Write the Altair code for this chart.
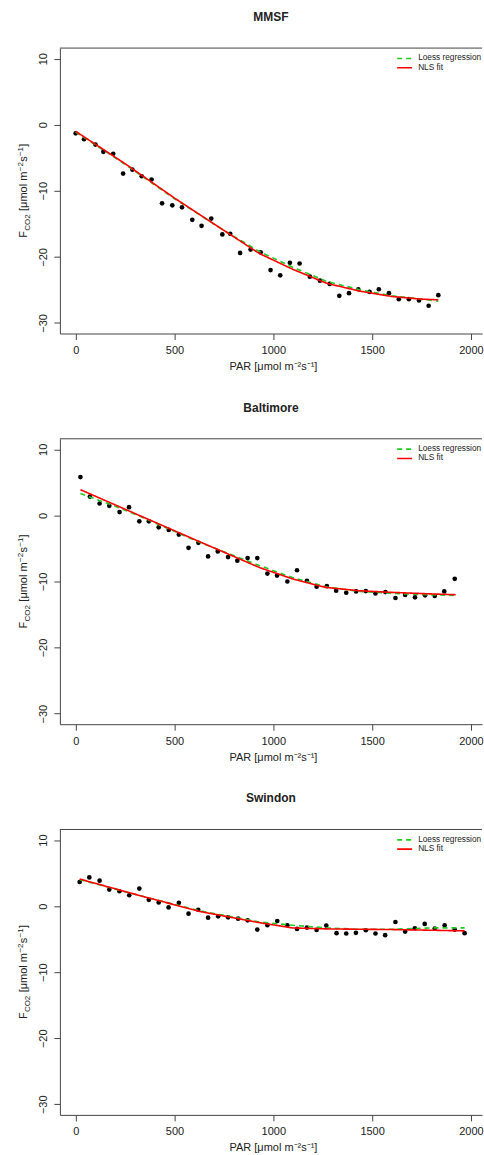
import altair as alt
import pandas as pd

FONT = "Liberation Sans"
GREEN = "#1FCB1F"
RED = "#FF0000"
INK = "#222222"
FRAME = "#444444"

# ---------------- data ----------------
sites = ["MMSF", "Baltimore", "Swindon"]
series_names = ["Loess regression", "NLS fit"]

mmsf_par = [0, 42, 100, 140, 190, 240, 287, 334, 384, 437, 489, 538, 590, 637, 686, 742, 782, 832, 885,
            936, 986, 1035, 1084, 1133, 1185, 1236, 1285, 1334, 1383, 1430, 1487, 1534, 1585, 1635, 1686,
            1737, 1786, 1835]
mmsf_f = [-1.3, -2.2, -3.0, -4.1, -4.4, -7.4, -6.8, -7.8, -8.3, -11.9, -12.2, -12.5, -14.4, -15.3, -14.2,
          -16.6, -16.5, -19.4, -18.9, -19.3, -22.0, -22.8, -20.9, -21.0, -23.0, -23.6, -24.1, -25.9, -25.5,
          -24.9, -25.3, -24.9, -25.5, -26.4, -26.4, -26.6, -27.4, -25.8]
mmsf_nls_par = [0, 250, 500, 750, 930, 1100, 1270, 1440, 1600, 1750, 1835]
mmsf_nls_f = [-1.0, -5.9, -11.1, -16.0, -19.5, -21.9, -24.0, -25.2, -26.0, -26.4, -26.5]
mmsf_lo_par = [0, 250, 500, 750, 930, 1100, 1270, 1440, 1600, 1750, 1835]
mmsf_lo_f = [-1.1, -6.0, -11.2, -16.0, -19.2, -21.6, -23.7, -25.0, -25.9, -26.4, -26.7]

balt_par = [24, 72, 121, 170, 222, 270, 322, 370, 420, 471, 522, 571, 621, 670, 719, 771, 818, 870, 919,
            970, 1019, 1071, 1120, 1170, 1219, 1271, 1318, 1369, 1419, 1468, 1517, 1567, 1618, 1667, 1717,
            1768, 1817, 1865, 1918]
balt_f = [5.8, 2.85, 1.8, 1.45, 0.5, 1.25, -0.9, -0.9, -1.8, -2.2, -2.9, -4.9, -4.15, -6.2, -5.45, -6.3,
          -6.85, -6.45, -6.45, -8.8, -9.1, -10.0, -8.3, -9.9, -10.8, -10.7, -11.4, -11.7, -11.5, -11.45,
          -11.8, -11.6, -12.5, -12.05, -12.4, -12.1, -12.2, -11.5, -9.6]
balt_nls_par = [24, 322, 621, 931, 1097, 1266, 1434, 1602, 1771, 1923]
balt_nls_f = [3.9, 0.0, -3.9, -7.9, -9.6, -10.9, -11.4, -11.65, -11.85, -12.0]
balt_lo_par = [24, 200, 322, 621, 931, 1097, 1266, 1434, 1602, 1771, 1918]
balt_lo_f = [3.3, 1.4, -0.1, -4.0, -7.6, -9.4, -10.8, -11.5, -11.8, -12.0, -12.1]

swin_par = [20, 69, 121, 170, 221, 271, 322, 370, 420, 470, 522, 571, 620, 670, 721, 771, 822, 870, 919,
            970, 1020, 1071, 1120, 1170, 1219, 1268, 1320, 1369, 1418, 1468, 1517, 1566, 1618, 1667, 1716,
            1766, 1817, 1867, 1918, 1968]
swin_f = [3.65, 4.35, 3.85, 2.5, 2.25, 1.65, 2.65, 0.95, 0.55, -0.2, 0.5, -1.15, -0.55, -1.75, -1.55,
          -1.7, -1.9, -2.15, -3.55, -2.9, -2.25, -2.9, -3.45, -3.25, -3.6, -2.95, -4.1, -4.15, -4.05,
          -3.65, -4.15, -4.4, -2.4, -3.85, -3.35, -2.7, -3.4, -2.9, -3.55, -4.1]
swin_nls_par = [20, 324, 626, 929, 1097, 1270, 1434, 1600, 1800, 1968]
swin_nls_f = [4.1, 1.6, -0.8, -2.5, -3.3, -3.45, -3.5, -3.55, -3.65, -3.75]
swin_lo_par = [20, 324, 626, 929, 1100, 1270, 1434, 1600, 1800, 1968]
swin_lo_f = [4.0, 1.6, -0.7, -2.4, -2.9, -3.3, -3.5, -3.5, -3.3, -3.3]

x_ticks = [0, 500, 1000, 1500, 2000]
y_ticks = [-30, -20, -10, 0, 10]

# ---------------- layout constants ----------------
W, H = 423, 286
X_DOMAIN = [-80, 2056]
Y_DOMAIN = [-31.6, 11.6]

color_scale = alt.Scale(domain=series_names, range=[GREEN, RED])
dash_scale = alt.Scale(domain=series_names, range=[[5, 4], [1, 0]])


def one_row():
    return alt.Data(values=[{"k": 0}])


def panel(title, par, f, nls_par, nls_f, lo_par, lo_f):
    pts = pd.DataFrame({"PAR": par, "F": f})
    lo = pd.DataFrame({"PAR": lo_par, "F": lo_f, "series": series_names[0]})
    nl = pd.DataFrame({"PAR": nls_par, "F": nls_f, "series": series_names[1]})

    xenc = alt.X("PAR:Q",
                 scale=alt.Scale(domain=X_DOMAIN, nice=False, zero=False),
                 axis=alt.Axis(values=x_ticks, format="d", title="PAR [μmol m⁻²s⁻¹]", labelPadding=5,
                               titleX=W / 2 + 2, titleY=36, titleBaseline="alphabetic",
                               titleAlign="center"))
    yenc = alt.Y("F:Q",
                 scale=alt.Scale(domain=Y_DOMAIN, nice=False, zero=False),
                 axis=alt.Axis(values=y_ticks, format="d", title=None, labelAngle=270, labelAlign="center",
                               labelBaseline="alphabetic", labelPadding=7))
    color = alt.Color("series:N", scale=color_scale, legend=None)
    dash = alt.StrokeDash("series:N", scale=dash_scale, legend=None)

    layers = []
    layers.append(alt.Chart(pts).mark_circle(size=22, color="black", opacity=1).encode(x=xenc, y=yenc))
    layers.append(alt.Chart(lo).mark_line(strokeWidth=1.6).encode(x="PAR:Q", y="F:Q", color=color, strokeDash=dash))
    layers.append(alt.Chart(nl).mark_line(strokeWidth=1.6).encode(x="PAR:Q", y="F:Q", color=color, strokeDash=dash))

    # top frame line
    layers.append(alt.Chart(one_row()).mark_rule(color=FRAME, strokeWidth=1).encode(
        x=alt.value(0), x2=alt.value(W), y=alt.value(0)))

    # legend
    for i, name in enumerate(series_names):
        yy = 10.4 + 9.3 * i
        ldf = pd.DataFrame({"series": [name]})
        layers.append(alt.Chart(ldf).mark_rule(strokeWidth=1.6).encode(
            x=alt.value(338), x2=alt.value(353), y=alt.value(yy), color=color, strokeDash=dash))
        layers.append(alt.Chart(ldf).mark_text(align="left", baseline="middle", fontSize=8.3,
                                               font=FONT, color=INK).encode(
            x=alt.value(359), y=alt.value(yy), text="series:N"))

    # y axis title built from pieces (subscript / superscripts)
    pieces = [("F", 11, 0.0, 0), ("CO2", 8, 7.0, 2.5), ("[μmol m", 11, 26.8, 0),
              ("−2", 8, 66.6, -4.5), ("s", 11, 76.0, 0), ("−1", 8, 81.8, -4.5), ("]", 11, 91.2, 0)]
    y0 = H / 2 + 47
    for txt, fs, dx, dy in pieces:
        layers.append(alt.Chart(one_row()).mark_text(
            text=txt, angle=270, align="left", baseline="alphabetic", fontSize=fs, font=FONT,
            color=INK, dx=dx, dy=dy).encode(x=alt.value(-32.7), y=alt.value(y0)))

    return alt.layer(*layers).properties(
        width=W, height=H,
        title=alt.TitleParams(title, fontSize=12, font=FONT, fontWeight="bold", color=INK,
                              anchor="middle", frame="group", baseline="alphabetic", offset=14.6))


p1 = panel(sites[0], mmsf_par, mmsf_f, mmsf_nls_par, mmsf_nls_f, mmsf_lo_par, mmsf_lo_f)
p2 = panel(sites[1], balt_par, balt_f, balt_nls_par, balt_nls_f, balt_lo_par, balt_lo_f)
p3 = panel(sites[2], swin_par, swin_f, swin_nls_par, swin_nls_f, swin_lo_par, swin_lo_f)

chart = alt.vconcat(p1, p2, p3, spacing=105.5, bounds="flush").properties(
    padding={"left": 16, "top": 9, "right": 0, "bottom": 0},
    background="white",
).configure_view(stroke=None).configure_axis(
    grid=False, domainColor=FRAME, tickColor=FRAME, tickSize=6, domainWidth=1, tickWidth=1,
    labelFont=FONT, labelFontSize=11, labelColor=INK,
    titleFont=FONT, titleFontSize=11, titleFontWeight="normal", titleColor=INK,
)

chart.save("out.html", embed_options={"renderer": "svg", "actions": False})
